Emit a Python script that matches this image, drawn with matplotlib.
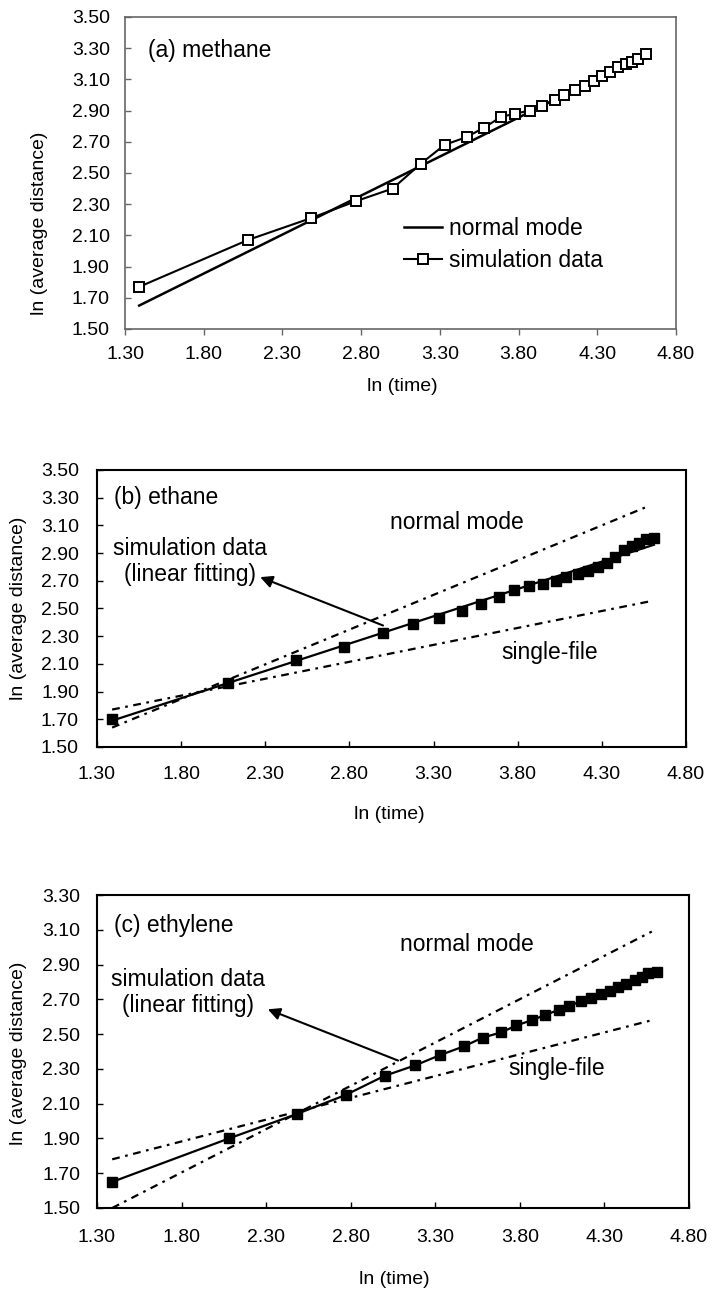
import numpy as np
import matplotlib
matplotlib.use("Agg")
import matplotlib.pyplot as plt

plt.rcParams['font.family'] = ['Liberation Sans', 'DejaVu Sans']

# ln(time) of the simulation points (same for all three panels)
ln_time = [1.39, 2.08, 2.48, 2.77, 3.00, 3.18, 3.33, 3.47, 3.58, 3.69,
           3.78, 3.87, 3.95, 4.03, 4.09, 4.16, 4.22, 4.28, 4.33, 4.38,
           4.43, 4.48, 4.52, 4.56, 4.61]

# (a) methane
methane_sim = [1.77, 2.07, 2.21, 2.32, 2.40, 2.56, 2.68, 2.73, 2.79, 2.86,
               2.88, 2.90, 2.93, 2.97, 3.00, 3.03, 3.06, 3.09, 3.12, 3.15,
               3.18, 3.20, 3.21, 3.23, 3.26]
methane_normal_x = [1.39, 4.61]
methane_normal_y = [1.65, 3.26]

# (b) ethane
ethane_sim = [1.70, 1.96, 2.13, 2.22, 2.32, 2.39, 2.43, 2.48, 2.53, 2.58,
              2.63, 2.66, 2.68, 2.70, 2.73, 2.75, 2.77, 2.80, 2.83, 2.87,
              2.92, 2.95, 2.97, 3.00, 3.01]
ethane_fit_x = [1.39, 4.61]
ethane_fit_y = [1.69, 2.96]
guide_x = [1.39, 4.58]
ethane_normal_y = [1.64, 3.24]
ethane_single_y = [1.77, 2.55]

# (c) ethylene
ethylene_sim = [1.65, 1.90, 2.04, 2.15, 2.26, 2.32, 2.38, 2.43, 2.48, 2.51,
                2.55, 2.58, 2.61, 2.64, 2.66, 2.69, 2.71, 2.73, 2.75, 2.77,
                2.79, 2.81, 2.83, 2.85, 2.86]
ethylene_normal_y = [1.50, 3.09]
ethylene_single_y = [1.78, 2.58]

xticks = np.arange(1.30, 4.81, 0.5)
FS_TICK = 14
FS_LAB = 14
FS_TXT = 16.5
guide_style = (0, (3.5, 2.5, 1.2, 2.5))

fig = plt.figure(figsize=(7.12, 12.91), dpi=100)
ax_a = fig.add_axes([0.1756, 0.7452, 0.7739, 0.2417])
ax_b = fig.add_axes([0.1362, 0.4214, 0.8272, 0.2146])
ax_c = fig.add_axes([0.1362, 0.0643, 0.8315, 0.2424])


def style_axes(ax, ylim, xpad, ypad, xdir, spine_col, spine_lw):
    ax.set_xlim(1.30, 4.80)
    ax.set_ylim(*ylim)
    ax.set_xticks(xticks)
    ax.set_xticklabels(["%.2f" % v for v in xticks])
    yt = np.arange(ylim[0], ylim[1] + 0.01, 0.2)
    ax.set_yticks(yt)
    ax.set_yticklabels(["%.2f" % v for v in yt])
    ax.tick_params(axis='x', direction=xdir, length=4, width=1,
                   pad=xpad, labelsize=FS_TICK, color=spine_col)
    ax.tick_params(axis='y', direction='in', length=4, width=1,
                   pad=ypad, labelsize=FS_TICK, color=spine_col)
    for s in ax.spines.values():
        s.set_color(spine_col)
        s.set_linewidth(spine_lw)


# ---- (a) methane
ax = ax_a
ax.plot(methane_normal_x, methane_normal_y, color='k', lw=1.8, label='normal mode')
ax.plot(ln_time, methane_sim, color='k', lw=1.5, marker='s', ms=6.5,
        mfc='white', mec='k', mew=1.4, label='simulation data')
style_axes(ax, (1.50, 3.50), 8.5, 11, 'out', '#666666', 1.2)
ax.text(1.444, 3.283, "(a) methane", fontsize=FS_TXT, va='center', ha='left')
ax.legend(loc='upper left', bbox_to_anchor=(0.507, 0.36), frameon=False,
          fontsize=FS_TXT, handlelength=1.65, handletextpad=0.3,
          labelspacing=0.4, borderpad=0, borderaxespad=0)
ax.set_xlabel("ln (time)", fontsize=FS_LAB)
ax.set_ylabel("ln (average distance)", fontsize=FS_LAB)
ax.xaxis.set_label_coords(0.503, -0.186)
ax.xaxis.label.set_va('center')
ax.yaxis.set_label_coords(-0.156, 0.34)
ax.yaxis.label.set_va('center')

# ---- (b) ethane
ax = ax_b
ax.plot(guide_x, ethane_normal_y, color='k', lw=1.6, ls=guide_style)
ax.plot(guide_x, ethane_single_y, color='k', lw=1.6, ls=guide_style)
ax.plot(ethane_fit_x, ethane_fit_y, color='k', lw=1.6)
ax.plot(ln_time, ethane_sim, ls='none', marker='s', ms=6.5, color='k')
style_axes(ax, (1.50, 3.50), 14, 13, 'in', 'k', 1.5)
ax.text(1.40, 3.30, "(b) ethane", fontsize=FS_TXT, va='center', ha='left')
ax.text(3.44, 3.12, "normal mode", fontsize=FS_TXT, va='center', ha='center')
ax.text(3.99, 2.185, "single-file", fontsize=FS_TXT, va='center', ha='center')
ax.text(1.85, 2.84, "simulation data\n(linear fitting)", fontsize=FS_TXT,
        va='center', ha='center', multialignment='center', linespacing=1.2)
ax.annotate("", xy=(2.27, 2.726), xytext=(3.0, 2.377),
            arrowprops=dict(arrowstyle='-|>', color='k', lw=1.5,
                            mutation_scale=18, shrinkA=0, shrinkB=0))
ax.set_xlabel("ln (time)", fontsize=FS_LAB)
ax.set_ylabel("ln (average distance)", fontsize=FS_LAB)
ax.xaxis.set_label_coords(0.497, -0.245)
ax.xaxis.label.set_va('center')
ax.yaxis.set_label_coords(-0.134, 0.50)
ax.yaxis.label.set_va('center')

# ---- (c) ethylene
ax = ax_c
ax.plot(guide_x, ethylene_normal_y, color='k', lw=1.6, ls=guide_style)
ax.plot(guide_x, ethylene_single_y, color='k', lw=1.6, ls=guide_style)
ax.plot(ln_time, ethylene_sim, color='k', lw=1.6, marker='s', ms=6.5)
style_axes(ax, (1.50, 3.30), 15, 12, 'in', 'k', 1.5)
ax.text(1.40, 3.125, "(c) ethylene", fontsize=FS_TXT, va='center', ha='left')
ax.text(3.485, 3.018, "normal mode", fontsize=FS_TXT, va='center', ha='center')
ax.text(4.02, 2.30, "single-file", fontsize=FS_TXT, va='center', ha='center')
ax.text(1.84, 2.74, "simulation data\n(linear fitting)", fontsize=FS_TXT,
        va='center', ha='center', multialignment='center', linespacing=1.2)
ax.annotate("", xy=(2.31, 2.643), xytext=(3.08, 2.348),
            arrowprops=dict(arrowstyle='-|>', color='k', lw=1.5,
                            mutation_scale=18, shrinkA=0, shrinkB=0))
ax.set_xlabel("ln (time)", fontsize=FS_LAB)
ax.set_ylabel("ln (average distance)", fontsize=FS_LAB)
ax.xaxis.set_label_coords(0.503, -0.23)
ax.xaxis.label.set_va('center')
ax.yaxis.set_label_coords(-0.133, 0.495)
ax.yaxis.label.set_va('center')

fig.savefig("out.png", dpi=100)
